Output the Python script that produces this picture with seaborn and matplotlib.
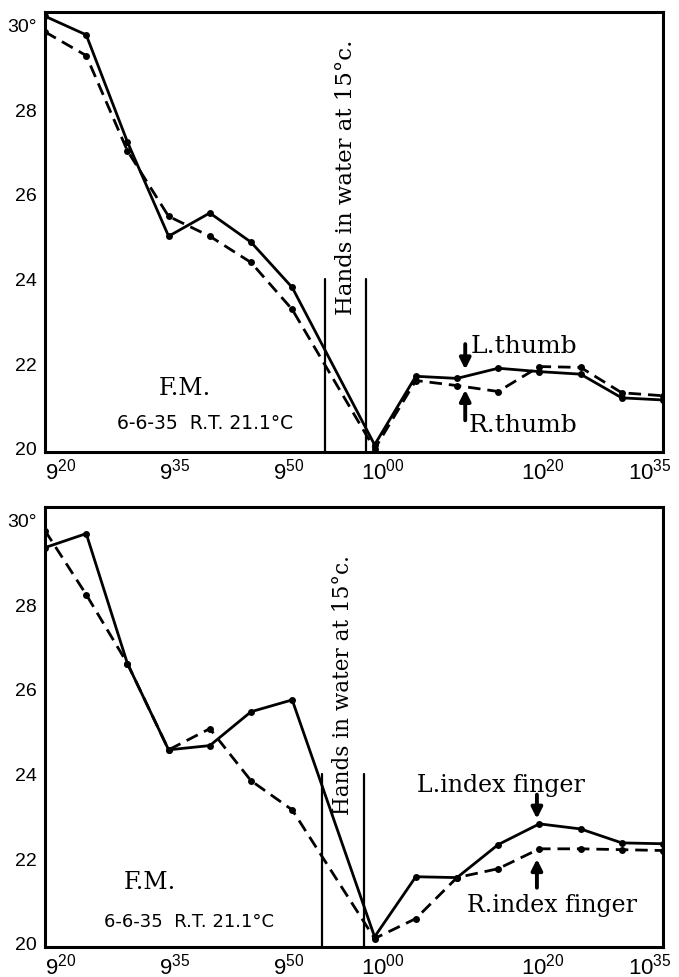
import matplotlib
matplotlib.use("Agg")
import matplotlib.pyplot as plt
import matplotlib.transforms as mtrans
import numpy as np
import pandas as pd
import seaborn as sns

# ---- data (minutes after 9:00) ----
times = [20, 25, 30, 35, 40, 45, 50, 60, 65, 70, 75, 80, 85, 90, 95]
l_thumb = [30.2, 29.76, 27.23, 25.0, 25.55, 24.86, 23.79, 20.07, 21.69, 21.64, 21.88, 21.8, 21.74, 21.18, 21.13]
r_thumb = [29.83, 29.27, 27.02, 25.47, 25.0, 24.38, 23.27, 19.97, 21.59, 21.47, 21.33, 21.92, 21.9, 21.3, 21.23]
l_index = [29.34, 29.67, 26.6, 24.56, 24.66, 25.46, 25.74, 20.14, 21.56, 21.54, 22.32, 22.81, 22.69, 22.36, 22.34]
r_index = [29.74, 28.23, 26.6, 24.56, 25.06, 23.83, 23.14, 20.1, 20.57, 21.54, 21.75, 22.22, 22.22, 22.2, 22.18]

xtick_pos = [20, 35, 50, 60, 80, 95]
xtick_labels = [r"$\mathregular{9^{20}}$", r"$\mathregular{9^{35}}$", r"$\mathregular{9^{50}}$",
                r"$\mathregular{10^{00}}$", r"$\mathregular{10^{20}}$", r"$\mathregular{10^{35}}$"]
ytick_pos = [20, 22, 24, 26, 28, 30]
ytick_labels = ["20", "22", "24", "26", "28", "30°"]

water_top = [54, 59]
water_bot = [53.6, 58.7]

sns.set_theme(style="white")
plt.rcParams["font.family"] = ["DejaVu Sans"]
plt.rcParams["mathtext.default"] = "regular"
plt.rcParams["text.color"] = "black"
plt.rcParams["xtick.color"] = "black"
plt.rcParams["ytick.color"] = "black"
plt.rcParams["axes.labelcolor"] = "black"

fig = plt.figure(figsize=(6.79, 9.78), dpi=100)
ax1 = fig.add_axes([0.0663, 0.5368, 0.9101, 0.4499])
ax2 = fig.add_axes([0.0663, 0.0307, 0.9101, 0.4499])

serif = "DejaVu Serif"
label_shift_px = [16, 6, -4, 8, 3, -13]


def style_axes(ax):
    ax.set_xlim(20, 95)
    ax.set_ylim(19.9, 30.3)
    ax.set_xticks(xtick_pos)
    ax.set_xticklabels(xtick_labels, fontsize=16, fontfamily="Liberation Sans", color="black")
    ax.set_yticks(ytick_pos)
    ax.set_yticklabels(ytick_labels, fontsize=14, fontfamily="Liberation Sans", color="black")
    ax.tick_params(length=0, pad=6)
    ax.tick_params(axis="x", pad=4)
    for lab, dx in zip(ax.get_xticklabels(), label_shift_px):
        lab.set_transform(lab.get_transform() + mtrans.ScaledTranslation(dx / 100, 0, fig.dpi_scale_trans))
    for s in ax.spines.values():
        s.set_visible(True)
        s.set_color("black")
        s.set_linewidth(2.2)
    ax.set_xlabel("")
    ax.set_ylabel("")
    ax.grid(False)


def draw(ax, solid, dashed, water, text_y, text_fs):
    sns.lineplot(x=times, y=solid, ax=ax, color="black", lw=2.0, marker="o",
                 markersize=5, markeredgewidth=0, sort=False)
    sns.lineplot(x=times, y=dashed, ax=ax, color="black", lw=2.0, marker="o",
                 markersize=5, markeredgewidth=0, linestyle=(0, (4.5, 2.5)), sort=False)
    for xv in water:
        ax.plot([xv, xv], [19.9, 24.0], color="black", lw=1.6)
    ax.text(np.mean(water), text_y, "Hands in water at 15°c.", rotation=90,
            ha="center", va="center", fontsize=text_fs, fontfamily=serif, color="black")


draw(ax1, l_thumb, r_thumb, water_top, 26.42, 16.5)
draw(ax2, l_index, r_index, water_bot, 26.12, 15.5)
style_axes(ax1)
style_axes(ax2)

arrow = dict(arrowstyle="-|>", lw=2.8, color="black", mutation_scale=16, shrinkA=0, shrinkB=0)

# top annotations
ax1.annotate("", xy=(71, 21.85), xytext=(71, 22.45), arrowprops=arrow)
ax1.annotate("", xy=(71, 21.37), xytext=(71, 20.65), arrowprops=arrow)
ax1.text(71.6, 22.42, "L.thumb", ha="left", va="center", fontsize=18, fontfamily=serif)
ax1.text(71.4, 20.55, "R.thumb", ha="left", va="center", fontsize=18, fontfamily=serif)
ax1.text(37, 21.42, "F.M.", ha="center", va="center", fontsize=17, fontfamily=serif)
ax1.text(39.4, 20.59, "6-6-35  R.T. 21.1°C", ha="center", va="center", fontsize=13.5)

# bottom annotations
ax2.annotate("", xy=(79.7, 22.93), xytext=(79.7, 23.5), arrowprops=arrow)
ax2.annotate("", xy=(79.7, 21.98), xytext=(79.7, 21.3), arrowprops=arrow)
ax2.text(75.3, 23.73, "L.index finger", ha="center", va="center", fontsize=17, fontfamily=serif)
ax2.text(81.5, 20.9, "R.index finger", ha="center", va="center", fontsize=17, fontfamily=serif)
ax2.text(32.7, 21.44, "F.M.", ha="center", va="center", fontsize=17, fontfamily=serif)
ax2.text(37.5, 20.52, "6-6-35  R.T. 21.1°C", ha="center", va="center", fontsize=13)

fig.savefig("out.png", dpi=100)
